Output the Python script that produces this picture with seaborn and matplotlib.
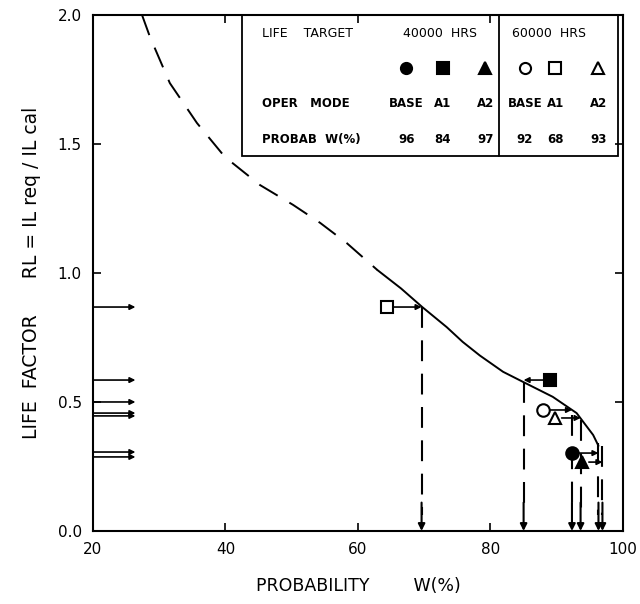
import numpy as np
import pandas as pd
import matplotlib
matplotlib.use("Agg")
import matplotlib.pyplot as plt
import seaborn as sns
from matplotlib.patches import Rectangle

# life factor curve (W %, RL)
dash_w = [27.4, 28.6, 31.6, 35.7, 39.9, 45.2, 50.2, 54.3, 58.3, 62.9]
dash_rl = [2.0, 1.915, 1.736, 1.581, 1.450, 1.341, 1.264, 1.194, 1.116, 1.012]
solid_w = [62.9, 66.5, 69.7, 73.4, 75.8, 78.4, 81.9, 84.9, 89.4, 93.0, 95.5, 96.3]
solid_rl = [1.012, 0.94, 0.868, 0.79, 0.733, 0.68, 0.617, 0.578, 0.52, 0.457, 0.372, 0.33]

# operating cases: 40000 hrs BASE/A1/A2, 60000 hrs BASE/A1/A2
targets = ["40000  HRS", "60000  HRS"]
modes = ["BASE", "A1", "A2", "BASE", "A1", "A2"]
probab = [96, 84, 97, 92, 68, 93]
markers = ["o", "s", "^", "o", "s", "^"]
filled = [True, True, True, False, False, False]
mark_w = [92.3, 89.0, 93.8, 87.9, 64.4, 89.7]
mark_rl = [0.302, 0.585, 0.267, 0.469, 0.868, 0.438]
drop_w = [96.3, 85.0, 96.9, 92.3, 69.6, 93.6]
drop_top = [0.34, 0.578, 0.33, 0.45, 0.868, 0.43]

# input arrows on the RL axis
arrow_rl = [0.868, 0.585, 0.50, 0.457, 0.446, 0.306, 0.287]

sns.set_theme(style="ticks")
plt.rcParams["font.family"] = ["DejaVu Sans"]
plt.rcParams.update({"text.color": "black", "axes.labelcolor": "black",
                     "xtick.color": "black", "ytick.color": "black"})

fig = plt.figure(figsize=(6.4, 6.04), dpi=100)
ax = fig.add_axes([0.1453, 0.1209, 0.8281, 0.8543])

# extrapolated (dashed) part and computed (solid) part of the curve
ax.plot(dash_w, dash_rl, color="black", lw=1.4, dashes=(11, 7),
        dash_capstyle="butt")
sns.lineplot(x=solid_w, y=solid_rl, ax=ax, color="black", lw=1.4, sort=False)

# vertical dashed drop lines with arrow at the W axis
for w, top in zip(drop_w, drop_top):
    ax.plot([w, w], [top, 0.06], color="black", lw=1.5, dashes=(10, 6))
    ax.annotate("", xy=(w, 0.0), xytext=(w, 0.11),
                arrowprops=dict(arrowstyle="-|>", color="black", lw=1.5,
                                mutation_scale=10, shrinkA=0, shrinkB=0))

# short arrows from each case marker to the curve
for w, rl, dw in zip(mark_w, mark_rl, drop_w):
    ax.annotate("", xy=(dw, rl), xytext=(w, rl),
                arrowprops=dict(arrowstyle="-|>", color="black", lw=1.2,
                                mutation_scale=8, shrinkA=5, shrinkB=0))

plot_df = pd.DataFrame({"w": mark_w, "rl": mark_rl, "m": markers, "f": filled})
for _, r in plot_df.iterrows():
    ax.plot(r.w, r.rl, marker=r.m, ms=9, mec="black", mew=1.5,
            mfc="black" if r.f else "white", ls="none", zorder=5)

# arrows coming in from the left axis
for rl in arrow_rl:
    ax.annotate("", xy=(26.4, rl), xytext=(20, rl),
                arrowprops=dict(arrowstyle="-|>", color="black", lw=1.2,
                                mutation_scale=8, shrinkA=0, shrinkB=0))

ax.set_xlim(20, 100)
ax.set_ylim(0, 2.0)
ax.set_xticks([20, 40, 60, 80, 100])
ax.set_yticks([0, 0.5, 1.0, 1.5, 2.0])
ax.set_yticklabels(["0.0", "0.5", "1.0", "1.5", "2.0"])
ax.tick_params(direction="in", length=6, width=1.2, top=True, right=True,
               labelsize=11, colors="black", pad=8)
for s in ax.spines.values():
    s.set_linewidth(1.5)
    s.set_color("black")

ax.set_xlabel("PROBABILITY        W(%)", fontsize=12.5, labelpad=14)
ax.set_ylabel("LIFE  FACTOR      RL = IL req / IL cal", fontsize=13.5, labelpad=12)

# table-like legend box
tr = ax.transAxes
ax.add_patch(Rectangle((0.281, 0.727), 0.709, 0.273, transform=tr, fill=False,
                       lw=1.3, ec="black", zorder=6))
ax.plot([0.766, 0.766], [0.727, 1.0], transform=tr, color="black", lw=1.3, zorder=6)
fs = 8.5
ax.text(0.319, 0.965, "LIFE    TARGET", transform=tr, fontsize=9, va="center")
ax.text(0.585, 0.965, targets[0], transform=tr, fontsize=9, va="center")
ax.text(0.791, 0.965, targets[1], transform=tr, fontsize=9, va="center")
ax.text(0.319, 0.829, "OPER   MODE", transform=tr, fontsize=fs, va="center", weight="bold")
ax.text(0.319, 0.758, "PROBAB  W(%)", transform=tr, fontsize=fs, va="center", weight="bold")
col_x = [0.591, 0.660, 0.740, 0.815, 0.872, 0.953]
for x, m, f, md, p in zip(col_x, markers, filled, modes, probab):
    ax.plot(x, 0.897, transform=tr, marker=m, ms=8, mec="black", mew=1.5,
            mfc="black" if f else "white", ls="none", zorder=7, clip_on=False)
    ax.text(x, 0.829, md, transform=tr, fontsize=fs, ha="center", va="center", weight="bold")
    ax.text(x, 0.758, str(p), transform=tr, fontsize=fs, ha="center", va="center", weight="bold")

fig.savefig("out.png", dpi=100)
